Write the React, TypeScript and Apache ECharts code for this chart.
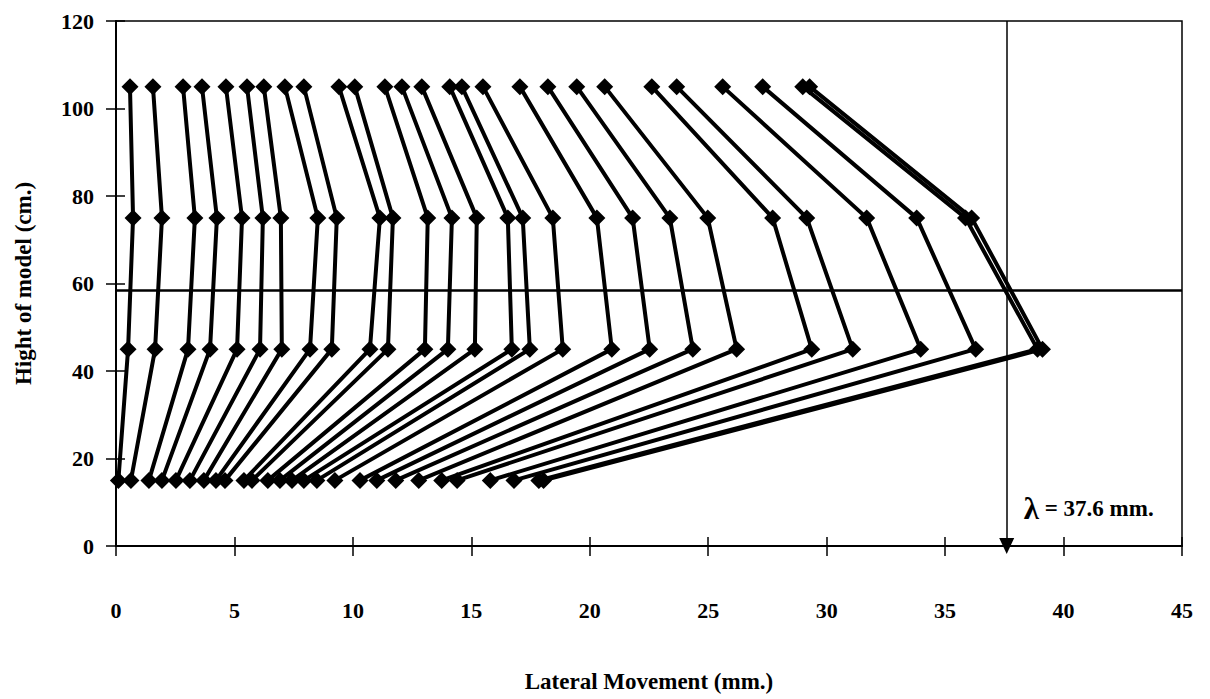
import React, { useEffect, useRef } from "react";
import * as echarts from "echarts";

// Heights of the measuring points (cm.)
const heights = [15, 45, 75, 105];

// Lateral movement (mm.) at each height, one entry per loading step
const atH15 = [0.1, 0.63, 1.39, 1.94, 2.53, 3.12, 3.71, 4.22, 4.6, 5.4, 5.74, 6.41, 6.92, 7.43, 7.93, 8.48, 9.24, 10.3, 11.01, 11.81, 12.78, 13.75, 14.4, 15.8, 16.8, 17.85, 18.05];
const atH45 = [0.51, 1.65, 3.04, 3.97, 5.11, 6.08, 7.0, 8.19, 9.11, 10.72, 11.48, 13.04, 14.01, 15.15, 16.71, 17.47, 18.86, 20.93, 22.53, 24.35, 26.2, 29.37, 31.1, 33.97, 36.29, 38.9, 39.11];
const atH75 = [0.72, 1.94, 3.33, 4.26, 5.32, 6.2, 6.96, 8.52, 9.32, 11.14, 11.69, 13.16, 14.18, 15.23, 16.54, 17.17, 18.44, 20.3, 21.81, 23.38, 24.98, 27.72, 29.16, 31.69, 33.8, 35.86, 36.12];
const atH105 = [0.59, 1.56, 2.83, 3.63, 4.64, 5.53, 6.24, 7.13, 7.93, 9.41, 10.08, 11.35, 12.07, 12.91, 14.09, 14.6, 15.49, 17.05, 18.23, 19.45, 20.63, 22.62, 23.67, 25.61, 27.3, 28.99, 29.28];

const levels = [atH15, atH45, atH75, atH105];

const lambdaValue = 37.6;
const referenceHeight = 58.5;
const lambdaLabelPos = [38.3, 8.5];

export default function App() {
  const ref = useRef<HTMLDivElement>(null);

  useEffect(() => {
    if (!ref.current) return;
    const chart = echarts.init(ref.current, null, { renderer: "svg" });
    const font = "'Liberation Serif', 'Times New Roman', serif";

    const series: any[] = atH15.map((_, i) => ({
      type: "line",
      name: "step" + (i + 1),
      xAxisIndex: 0,
      yAxisIndex: 0,
      data: heights.map((h, k) => [levels[k][i], h]),
      symbol: "diamond",
      symbolSize: 17,
      lineStyle: { color: "#000", width: 4 },
      itemStyle: { color: "#000" },
      z: 3,
    }));

    series.push({
      type: "line",
      name: "ref",
      xAxisIndex: 0,
      yAxisIndex: 0,
      data: [],
      markLine: {
        silent: true,
        symbol: ["none", "none"],
        label: { show: false },
        lineStyle: { color: "#000", width: 2.5, type: "solid" },
        data: [{ yAxis: referenceHeight }],
      },
    });

    series.push({
      type: "line",
      name: "lambda",
      xAxisIndex: 0,
      yAxisIndex: 0,
      data: [],
      markLine: {
        silent: true,
        symbol: ["none", "triangle"],
        symbolSize: [15, 16],
        label: { show: false },
        lineStyle: { color: "#000", width: 1.5, type: "solid" },
        itemStyle: { color: "#000" },
        data: [[{ coord: [lambdaValue, 120] }, { coord: [lambdaValue, 0] }]],
      },
      markPoint: {
        silent: true,
        symbol: "circle",
        symbolSize: 1,
        itemStyle: { color: "rgba(0,0,0,0)" },
        data: [
          {
            coord: lambdaLabelPos,
            label: {
              show: true,
              position: "right",
              distance: 0,
              formatter: "{l|λ} = " + lambdaValue + " mm.",
              color: "#000",
              fontFamily: font,
              fontWeight: "bold",
              fontSize: 23,
              rich: {
                l: { fontSize: 31, fontFamily: font, fontWeight: "bold", color: "#000" },
              },
            },
          },
        ],
      },
    });

    const tickFont = { fontFamily: font, fontWeight: "bold" as const, fontSize: 22, color: "#000" };

    chart.setOption({
      animation: false,
      backgroundColor: "#fff",
      grid: {
        left: 116,
        right: 28,
        top: 21,
        bottom: 153,
        show: true,
        borderColor: "#000",
        borderWidth: 1.5,
        backgroundColor: "transparent",
      },
      xAxis: [
        {
          type: "value",
          min: 0,
          max: 45,
          interval: 5,
          position: "bottom",
          name: "Lateral Movement (mm.)",
          nameLocation: "middle",
          nameGap: 124,
          nameTextStyle: { fontFamily: font, fontWeight: "bold", fontSize: 23, color: "#000" },
          axisLine: { show: true, onZero: false, lineStyle: { color: "#000", width: 2 } },
          axisTick: { show: true, length: 10, lineStyle: { color: "#000", width: 1.5 } },
          axisLabel: { margin: 53, ...tickFont },
          splitLine: { show: false },
        },
        {
          type: "value",
          min: 0,
          max: 45,
          interval: 5,
          position: "bottom",
          axisLine: { show: false },
          axisTick: { show: true, inside: true, length: 9, lineStyle: { color: "#000", width: 1.5 } },
          axisLabel: { show: false },
          splitLine: { show: false },
        },
      ],
      yAxis: [
        {
          type: "value",
          min: 0,
          max: 120,
          interval: 20,
          position: "left",
          name: "Hight of model (cm.)",
          nameLocation: "middle",
          nameRotate: 90,
          nameGap: 81,
          nameTextStyle: { fontFamily: font, fontWeight: "bold", fontSize: 23, color: "#000" },
          axisLine: { show: true, onZero: false, lineStyle: { color: "#000", width: 2 } },
          axisTick: { show: true, length: 10, lineStyle: { color: "#000", width: 1.5 } },
          axisLabel: { margin: 22, ...tickFont },
          splitLine: { show: false },
        },
        {
          type: "value",
          min: 0,
          max: 120,
          interval: 20,
          position: "left",
          axisLine: { show: false },
          axisTick: { show: true, inside: true, length: 9, lineStyle: { color: "#000", width: 1.5 } },
          axisLabel: { show: false },
          splitLine: { show: false },
        },
      ],
      series,
    });

    return () => chart.dispose();
  }, []);

  return (
    <div
      ref={ref}
      style={{ position: "absolute", left: 0, top: 0, width: 1210, height: 699, background: "#fff" }}
    />
  );
}
